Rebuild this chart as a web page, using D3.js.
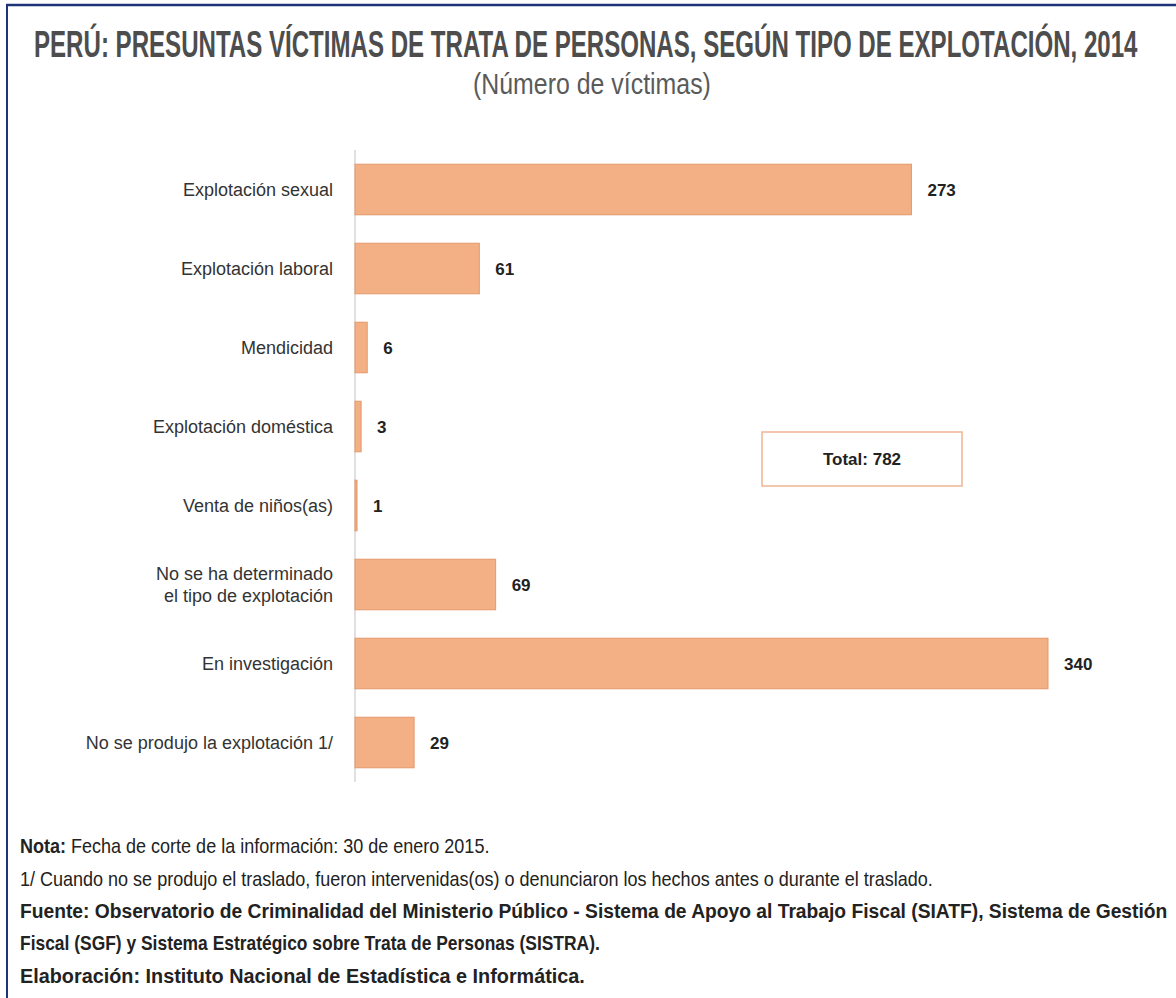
<!DOCTYPE html>
<html>
<head>
<meta charset="utf-8">
<script src="https://cdn.jsdelivr.net/npm/d3@7"></script>
<style>
  body { margin: 0; background: #fff; }
  svg text { font-family: "Liberation Sans Narrow", "Liberation Sans", Arial, sans-serif; }
</style>
</head>
<body>
<div id="chart"></div>
<script>
// Presuntas víctimas de trata, por tipo de explotación
var categories = ["Explotación sexual", "Explotación laboral", "Mendicidad", "Explotación doméstica",
  "Venta de niños(as)", "No se ha determinado|el tipo de explotación", "En investigación",
  "No se produjo la explotación 1/"]
var values = [273, 61, 6, 3, 1, 69, 340, 29]
var total = 782

var titleText = "PERÚ: PRESUNTAS VÍCTIMAS DE TRATA DE PERSONAS, SEGÚN TIPO DE EXPLOTACIÓN, 2014"
var subtitleText = "(Número de víctimas)"
var notes = [
  {b: "Nota: ", t: "Fecha de corte de la información: 30 de enero 2015."},
  {b: "", t: "1/ Cuando no se produjo el traslado, fueron intervenidas(os) o denunciaron los hechos antes o durante el traslado."},
  {b: "Fuente: Observatorio de Criminalidad del Ministerio Público - Sistema de Apoyo al Trabajo Fiscal (SIATF), Sistema de Gestión", t: ""},
  {b: "Fiscal (SGF) y Sistema Estratégico sobre Trata de Personas (SISTRA).", t: ""},
  {b: "Elaboración: Instituto Nacional de Estadística e Informática.", t: ""}
]

var W = 1176, H = 998
var svg = d3.select("#chart").append("svg")
  .attr("width", W).attr("height", H)

// squeeze a text horizontally to a given width (condensed look), left edge at x
function squeeze(g, x, yy, width) {
  var t = g.select("text")
  var w = t.node().getComputedTextLength()
  g.attr("transform", "translate(" + x + "," + yy + ") scale(" + (width / w) + ",1)")
}

// frame (top + left rule)
svg.append("line").attr("x1", 6).attr("x2", W).attr("y1", 5).attr("y2", 5)
  .attr("stroke", "#1d3577").attr("stroke-width", 2.5)
svg.append("line").attr("x1", 7).attr("x2", 7).attr("y1", 5).attr("y2", H)
  .attr("stroke", "#1d3577").attr("stroke-width", 2)

// titles
var gt = svg.append("g")
gt.append("text").attr("x", 0).attr("y", 0)
  .style("font-size", "37px").style("font-weight", "bold").style("fill", "#4d4d4d")
  .text(titleText)
squeeze(gt, 34, 57, 1104)

var gs = svg.append("g")
gs.append("text").attr("x", 0).attr("y", 0)
  .style("font-size", "29px").style("fill", "#5a5a5a")
  .text(subtitleText)
squeeze(gs, 473, 94, 238)

// scales
var x0 = 355
var x = d3.scaleLinear().domain([0, 340]).range([x0, 1048])
var y = d3.scaleBand().domain(categories).range([150, 782]).paddingInner(0.36).paddingOuter(0.18)

// axis line
svg.append("line").attr("x1", x0).attr("x2", x0).attr("y1", 150).attr("y2", 782)
  .attr("stroke", "#d6d6d6").attr("stroke-width", 1.5)

// bars
svg.selectAll("rect.bar").data(values).enter().append("rect")
  .attr("class", "bar")
  .attr("x", x(0))
  .attr("y", function(d, i) { return y(categories[i]) })
  .attr("width", function(d) { return x(d) - x(0) })
  .attr("height", y.bandwidth())
  .attr("fill", "#f2b084")
  .attr("stroke", "#e5986b").attr("stroke-width", 1)

// value labels
svg.selectAll("text.val").data(values).enter().append("text")
  .attr("class", "val")
  .attr("x", function(d) { return x(d) + 16 })
  .attr("y", function(d, i) { return y(categories[i]) + y.bandwidth() / 2 + 6 })
  .style("font-size", "17px").style("font-weight", "bold").style("fill", "#222")
  .text(function(d) { return d })

// category labels
var lab = svg.selectAll("text.cat").data(categories).enter().append("text")
  .attr("class", "cat")
  .attr("text-anchor", "end")
  .attr("x", 333)
  .attr("y", function(d) { return y(d) + y.bandwidth() / 2 + 6 })
  .style("font-size", "18px").style("fill", "#333")
lab.each(function(d) {
  var parts = d.split("|"), el = d3.select(this)
  parts.forEach(function(p, k) {
    el.append("tspan").attr("x", 333)
      .attr("dy", k == 0 ? -(parts.length - 1) * 11 : 22)
      .text(p)
  })
})

// total box
svg.append("rect").attr("x", 762).attr("y", 432).attr("width", 200).attr("height", 54)
  .attr("fill", "#fff").attr("stroke", "#efb593").attr("stroke-width", 1.5)
svg.append("text").attr("x", 862).attr("y", 465).attr("text-anchor", "middle")
  .style("font-size", "17px").style("font-weight", "bold").style("fill", "#222")
  .text("Total: " + total)

// notes
var noteY = [853, 886, 918, 950, 983]
var noteLen = [470, 914, 1148, 580, 565]
notes.forEach(function(n, i) {
  var g = svg.append("g")
  var t = g.append("text").attr("x", 0).attr("y", 0)
    .style("font-size", "20px").style("fill", "#222")
  if (n.b) t.append("tspan").style("font-weight", "bold").text(n.b)
  if (n.t) t.append("tspan").text(n.t)
  squeeze(g, 20, noteY[i], noteLen[i])
})
</script>
</body>
</html>
